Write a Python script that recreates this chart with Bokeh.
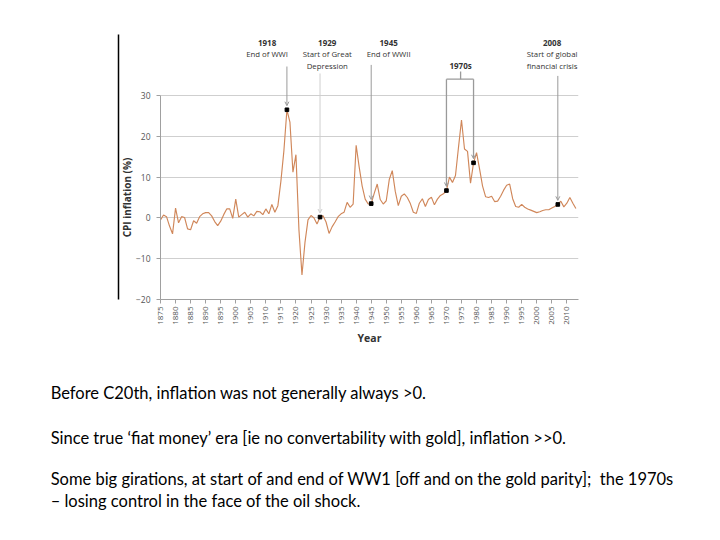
import math
from bokeh.plotting import figure
from bokeh.models import FixedTicker, Label, Arrow, OpenHead, Range1d, LinearAxis
from bokeh.embed import file_html
from bokeh.resources import INLINE

# ---------------- data ----------------
years = list(range(1875, 2014))
cpi = [
    # 1875-1884
    -0.5, 0.7, 0.3, -2.0, -3.9, 2.4, -1.2, 0.3, 0.1, -2.7,
    # 1885-1894
    -2.9, -0.7, -1.3, 0.3, 1.0, 1.3, 1.3, 0.5, -0.9, -1.9,
    # 1895-1904
    -0.8, 0.8, 2.2, 2.2, -0.1, 4.6, 0.2, 0.8, 1.4, 0.2,
    # 1905-1914
    1.0, 0.5, 1.6, 1.5, 0.8, 2.2, 1.0, 3.3, 1.4, 3.0,
    # 1915-1924
    9.0, 16.5, 26.5, 23.5, 11.2, 15.5, -3.0, -14.0, -6.0, -0.5,
    # 1925-1934
    0.6, 0.0, -1.5, 0.2, 0.5, -1.0, -3.8, -2.2, -1.0, 0.3,
    # 1935-1944
    1.0, 1.4, 3.8, 2.6, 3.4, 17.8, 12.5, 7.8, 4.6, 3.4,
    # 1945-1954
    3.5, 6.0, 8.3, 4.5, 3.4, 4.2, 9.4, 11.6, 6.5, 3.0,
    # 1955-1964
    5.3, 5.9, 5.0, 3.5, 1.4, 1.1, 3.6, 4.7, 2.8, 4.5,
    # 1965-1974
    5.1, 3.2, 4.6, 5.5, 5.9, 6.7, 10.0, 8.7, 10.4, 17.3,
    # 1975-1984
    24.0, 16.9, 16.3, 8.5, 13.5, 16.0, 12.0, 7.8, 5.2, 5.0,
    # 1985-1994
    5.3, 4.0, 4.1, 5.3, 6.8, 8.0, 8.3, 4.7, 2.8, 2.6,
    # 1995-2004
    3.3, 2.6, 2.2, 1.9, 1.6, 1.3, 1.5, 1.8, 2.0, 2.0,
    # 2005-2013
    2.4, 2.8, 3.3, 4.1, 2.7, 3.6, 5.0, 3.6, 2.3,
]
assert len(cpi) == len(years)

x_ticks = list(range(1875, 2011, 5))
y_ticks = [-20, -10, 0, 10, 20, 30]
y_tick_labels = {-20: "\u221220", -10: "\u221210", 0: "0", 10: "10", 20: "20", 30: "30"}

event_years_text = ["1918", "1929", "1945", "2008"]
event_notes = [["End of WWI"], ["Start of Great", "Depression"], ["End of WWII"],
               ["Start of global", "financial crisis"]]
event_marker_years = [1917, 1928, 1945, 2007]
decade_text = "1970s"
decade_marker_years = [1970, 1979]

notes = [
    "Before C20th, inflation was not generally always >0.",
    "Since true \u2018fiat money\u2019 era [ie no convertability with gold], inflation >>0.",
    "Some big girations, at start of and end of WW1 [off and on the gold parity];\u00a0 the 1970s",
    "\u2013 losing control in the face of the oil shock.",
]

value_of = dict(zip(years, cpi))

# ---------------- layout ----------------
W, H = 720, 540
p = figure(width=W, height=H, output_backend="svg", toolbar_location=None,
           x_range=Range1d(1875, 2013.87), y_range=Range1d(-20, 44.95),
           min_border_left=160, min_border_right=142,
           min_border_top=34, min_border_bottom=241,
           background_fill_color="white", border_fill_color="white")
p.outline_line_color = None

FONT = "Open Sans"
TXT = "#333333"

# grid
p.xgrid.grid_line_color = None
p.ygrid.ticker = FixedTicker(ticks=y_ticks)
p.ygrid.grid_line_color = "#cfcfcf"
p.ygrid.grid_line_width = 1

# x axis
p.xaxis.ticker = FixedTicker(ticks=x_ticks)
p.xaxis.minor_tick_line_color = None
p.xaxis.major_tick_out = 4
p.xaxis.major_tick_in = 0
p.xaxis.axis_line_color = "#a0a0a0"
p.xaxis.major_tick_line_color = "#a0a0a0"
p.xaxis.major_label_orientation = math.pi / 2
p.xaxis.major_label_text_font = FONT
p.xaxis.major_label_text_font_size = "8px"
p.xaxis.major_label_text_color = "#555555"
p.xaxis.major_label_standoff = 3
p.xaxis.axis_label = "Year"
p.xaxis.axis_label_text_font = FONT
p.xaxis.axis_label_text_font_style = "bold"
p.xaxis.axis_label_text_font_size = "10.5px"
p.xaxis.axis_label_text_color = TXT
p.xaxis.axis_label_standoff = 3

# y axis
p.yaxis.ticker = FixedTicker(ticks=y_ticks)
p.yaxis.bounds = (-20, 30)
p.yaxis.major_label_overrides = y_tick_labels
p.yaxis.minor_tick_line_color = None
p.yaxis.major_tick_out = 4
p.yaxis.major_tick_in = 0
p.yaxis.axis_line_color = "#a0a0a0"
p.yaxis.major_tick_line_color = "#a0a0a0"
p.yaxis.major_label_text_font = FONT
p.yaxis.major_label_text_font_size = "8.5px"
p.yaxis.major_label_text_color = "#555555"
p.yaxis.major_label_standoff = 6

p.add_layout(Label(x=1864.0, y=5, text="CPI inflation (%)", angle=math.pi / 2,
                   text_align="center", text_baseline="middle",
                   text_font=FONT, text_font_style="bold", text_font_size="10px",
                   text_color=TXT), "left")

# left frame line of the slide image: a bare extra axis (no ticks, no labels)
frame_axis = LinearAxis(ticker=FixedTicker(ticks=[]), axis_line_color="black",
                        axis_line_width=1.5, major_tick_line_color=None,
                        minor_tick_line_color=None)
p.add_layout(frame_axis, "left")

# series
p.line(years, cpi, line_color="#d0875a", line_width=1.15)

# annotations: events
label_x = [1910.4, 1930.4, 1950.8, 2005.1]
line_top = [37.1, 35.4, 37.5, 34.8]
line_col = ["#9a9a9a", "#cfcfcf", "#9a9a9a", "#9a9a9a"]
rows = [42.8, 40.2, 37.25]
for i, yr in enumerate(event_marker_years):
    p.add_layout(Label(x=label_x[i], y=rows[0], text=event_years_text[i],
                       text_align="center", text_baseline="middle", text_font=FONT,
                       text_font_style="bold", text_font_size="8px", text_color=TXT))
    for j, t in enumerate(event_notes[i]):
        p.add_layout(Label(x=label_x[i], y=rows[j + 1], text=t,
                           text_align="center", text_baseline="middle", text_font=FONT,
                           text_font_size="7.8px", text_color=TXT))
    p.add_layout(Arrow(x_start=yr, y_start=line_top[i], x_end=yr, y_end=value_of[yr] + 1.0,
                       line_color=line_col[i], line_width=1,
                       end=OpenHead(size=4, line_color=line_col[i], line_width=1)))

# 1970s box
box_top = 34.0
d0, d1 = decade_marker_years
p.add_layout(Label(x=1974.7, y=rows[2], text=decade_text, text_align="center",
                   text_baseline="middle", text_font=FONT, text_font_style="bold",
                   text_font_size="8px", text_color=TXT))
p.add_layout(Arrow(x_start=d0, y_start=box_top, x_end=d1, y_end=box_top,
                   line_color="#9a9a9a", line_width=1.3, end=None))
p.add_layout(Arrow(x_start=1974.7, y_start=box_top, x_end=1974.7, y_end=35.9,
                   line_color="#9a9a9a", line_width=1.3, end=None))
for yr in decade_marker_years:
    p.add_layout(Arrow(x_start=yr, y_start=box_top, x_end=yr, y_end=value_of[yr] + 1.0,
                       line_color="#9a9a9a", line_width=1.3,
                       end=OpenHead(size=4, line_color="#9a9a9a", line_width=1)))

# markers
mk_years = event_marker_years + decade_marker_years
p.scatter(mk_years, [value_of[y] for y in mk_years], marker="square", size=3.6,
          color="black")

# notes below
note_y = [-42.8, -53.9, -64.1, -69.3]
for t, yy in zip(notes, note_y):
    p.add_layout(Label(x=1838.5, y=yy, text=t, text_align="left", text_baseline="middle",
                       text_font="Lato", text_font_size="16.5px", text_color="#000000"),
                 "below")

open("out.html", "w").write(file_html(p, INLINE))
